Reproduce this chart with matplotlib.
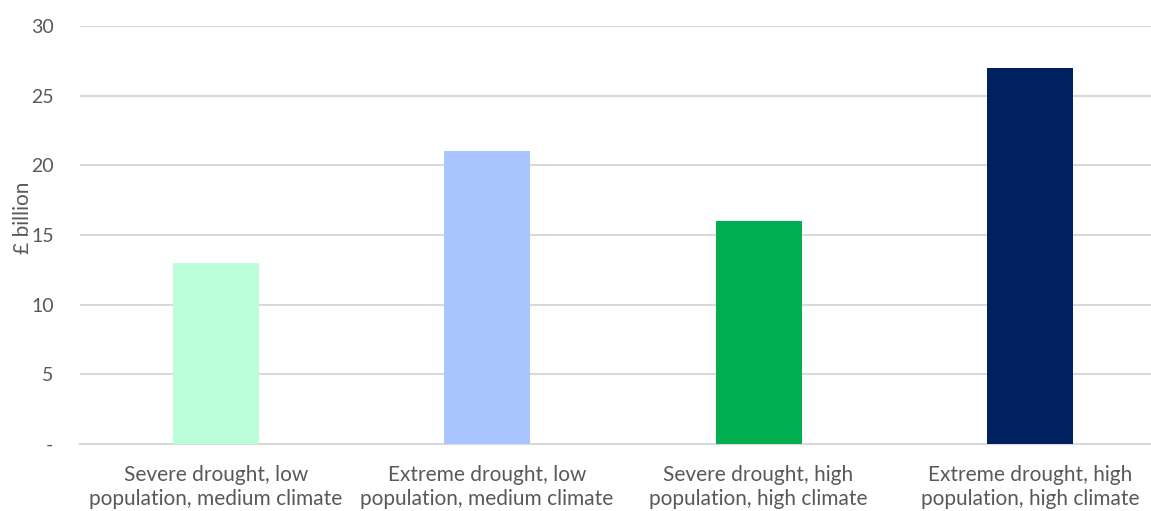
import matplotlib.pyplot as plt

# costs by scenario
categories = [
    "Severe drought, low\npopulation, medium climate",
    "Extreme drought, low\npopulation, medium climate",
    "Severe drought, high\npopulation, high climate",
    "Extreme drought, high\npopulation, high climate",
]
values = [13, 21, 16, 27]
colours = ["#BBFFDA", "#A9C5FF", "#00AF50", "#00205F"]
y_ticks = [0, 5, 10, 15, 20, 25, 30]
y_tick_labels = ["-", "5", "10", "15", "20", "25", "30"]

plt.rcParams['font.family'] = ['Lato', 'DejaVu Sans']
text_col = "#595959"
grid_col = "#D9D9D9"

fig = plt.figure(figsize=(11.51, 5.11), dpi=100)
ax = fig.add_axes([80 / 1151, 67 / 511, (1151 - 80) / 1151, (444 - 26) / 511])

x = range(len(categories))
ax.bar(x, values, width=0.317, color=colours, zorder=3)

ax.set_ylim(0, 30)
ax.set_xlim(-0.5, 3.446)
ax.set_yticks(y_ticks)
ax.set_yticklabels(y_tick_labels)
ax.set_xticks(list(x))
ax.set_xticklabels(categories, linespacing=1.25)

# horizontal gridlines only
ax.grid(axis='y', color=grid_col, linewidth=1.5, zorder=0)
for s in ['top', 'right', 'left']:
    ax.spines[s].set_visible(False)
ax.spines['bottom'].set_color(grid_col)
ax.spines['bottom'].set_linewidth(1.5)

ax.tick_params(axis='both', length=0, labelsize=15, colors=text_col)
ax.tick_params(axis='y', labelsize=14, pad=19)
ax.tick_params(axis='x', pad=15)

ax.set_ylabel("£ billion", fontsize=15, color=text_col)
ax.yaxis.set_label_coords(-47 / 1071, 0.54)

fig.savefig("out.png", dpi=100)
